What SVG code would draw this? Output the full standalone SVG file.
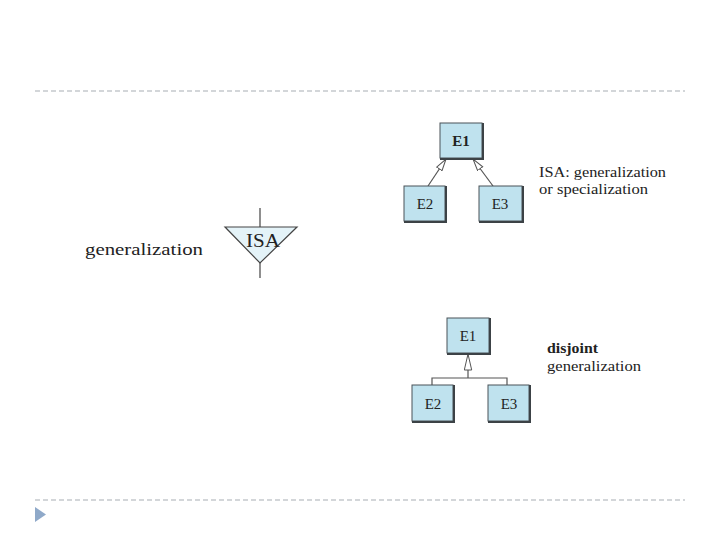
<svg xmlns="http://www.w3.org/2000/svg" width="720" height="540" viewBox="0 0 720 540">
<style>
.sep{stroke:#a8adb3;stroke-width:1.2;stroke-dasharray:5 3;fill:none}
.box{fill:#bfe2ee;stroke:#4a5358;stroke-width:1}
.shadow{fill:none;stroke:#3c4246;stroke-width:2}
.lbl{font-family:"Liberation Serif","DejaVu Serif",serif;font-size:15px;fill:#222}
.ent{font-family:"Liberation Serif","DejaVu Serif",serif;font-size:15px;fill:#222;text-anchor:middle}
.conn{stroke:#555;stroke-width:1.2;fill:none}
</style>
<defs>
<marker id="hollow" markerWidth="13" markerHeight="8" refX="12.5" refY="4" orient="auto" markerUnits="userSpaceOnUse" viewBox="0 0 13 8">
<path d="M0.5,0.8 L12.5,4 L0.5,7.2 Z" fill="#fff" stroke="#555" stroke-width="1"/>
</marker>
<marker id="hollowL" markerWidth="17" markerHeight="9" refX="16.5" refY="4.5" orient="auto" markerUnits="userSpaceOnUse" viewBox="0 0 17 9">
<path d="M0.5,0.8 L16.5,4.5 L0.5,8.2 Z" fill="#fff" stroke="#555" stroke-width="1"/>
</marker>
</defs>
<rect width="720" height="540" fill="#fff"/>
<line class="sep" x1="35" y1="91" x2="685" y2="91"/>
<line class="sep" x1="35" y1="500" x2="685" y2="500"/>
<polygon points="35,507 46,514.5 35,522" fill="#8fa9c9"/>

<g id="left-isa">
<text x="85" y="255" font-family="Liberation Serif,DejaVu Serif,serif" font-size="17" fill="#222" textLength="118" lengthAdjust="spacingAndGlyphs">generalization</text>
<line x1="260" y1="208" x2="260" y2="227" stroke="#444" stroke-width="1.2"/>
<line x1="260" y1="263" x2="260" y2="278" stroke="#444" stroke-width="1.2"/>
<polygon points="225,227 297,227 260,263" fill="#e4f3f8" stroke="#444" stroke-width="1.2"/>
<text x="246" y="247" font-family="Liberation Serif,DejaVu Serif,serif" font-size="18" fill="#222" textLength="34" lengthAdjust="spacingAndGlyphs">ISA</text>
</g>

<g id="connectors">
<line class="conn" x1="428" y1="186" x2="446" y2="159" marker-end="url(#hollow)"/>
<line class="conn" x1="493" y1="186" x2="473" y2="159" marker-end="url(#hollow)"/>
<line class="conn" x1="468" y1="378" x2="468" y2="354" marker-end="url(#hollowL)"/>
<polyline class="conn" points="432,385 432,378 507,378 507,385"/>
</g>

<g id="top-E1">
<rect class="box" x="440" y="123" width="42" height="35"/>
<polyline class="shadow" points="483,123 483,159 440,159"/>
<text class="ent" x="461" y="146" font-weight="bold">E1</text>
</g>
<g id="top-E2">
<rect class="box" x="404" y="186" width="41" height="35"/>
<polyline class="shadow" points="446,186 446,222 404,222"/>
<text class="ent" x="425" y="209">E2</text>
</g>
<g id="top-E3">
<rect class="box" x="479" y="186" width="43" height="35"/>
<polyline class="shadow" points="523,186 523,222 479,222"/>
<text class="ent" x="500" y="209">E3</text>
</g>
<text class="lbl" x="539" y="177" textLength="127" lengthAdjust="spacingAndGlyphs">ISA: generalization</text>
<text class="lbl" x="539" y="194" textLength="109" lengthAdjust="spacingAndGlyphs">or specialization</text>

<g id="bot-E1">
<rect class="box" x="447" y="318" width="42" height="35"/>
<polyline class="shadow" points="490,318 490,354 447,354"/>
<text class="ent" x="468" y="341">E1</text>
</g>
<g id="bot-E2">
<rect class="box" x="412" y="385" width="41" height="36"/>
<polyline class="shadow" points="454,385 454,422 412,422"/>
<text class="ent" x="433" y="409">E2</text>
</g>
<g id="bot-E3">
<rect class="box" x="488" y="385" width="41" height="36"/>
<polyline class="shadow" points="530,385 530,422 488,422"/>
<text class="ent" x="509" y="409">E3</text>
</g>
<text class="lbl" x="547" y="353" font-weight="bold" textLength="51" lengthAdjust="spacingAndGlyphs">disjoint</text>
<text class="lbl" x="547" y="371" textLength="94" lengthAdjust="spacingAndGlyphs">generalization</text>
</svg>
